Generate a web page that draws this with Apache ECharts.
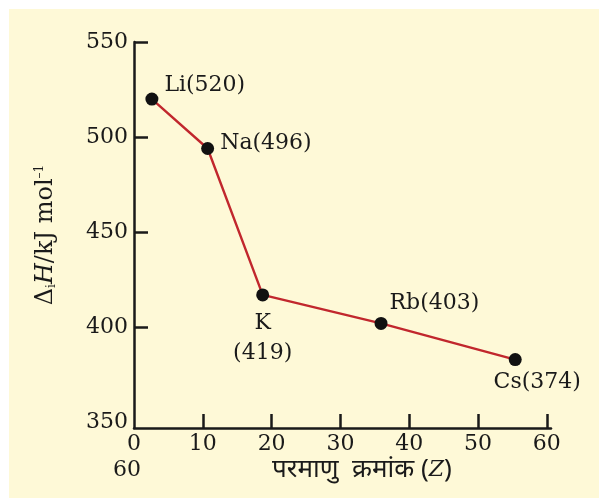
<!DOCTYPE html>
<html>
<head>
<meta charset="utf-8">
<script src="https://cdn.jsdelivr.net/npm/echarts@6/dist/echarts.min.js"></script>
<style>
html,body{margin:0;padding:0;background:#ffffff;}
#bg{position:absolute;left:9px;top:9px;width:590px;height:489px;background:#FEF9D7;}
#chart{position:absolute;left:0;top:0;width:599px;height:498px;}
</style>
</head>
<body>
<div id="bg"></div>
<div id="chart"></div>
<script>
// Data
const elements = ['Li', 'Na', 'K', 'Rb', 'Cs'];
const atomicNumber = [2.6, 10.7, 18.7, 35.9, 55.4];
const enthalpy = [520, 494, 417, 402, 383];
const labelValues = [520, 496, 419, 403, 374];
const xTicks = [0, 10, 20, 30, 40, 50, 60];
const yTickLabels = [350, 400, 450, 500, 550];
const yTickMarks = [400, 450, 500, 550];

const serif = '"DejaVu Serif", "Liberation Serif", serif';
const ink = '#1a1a1a';

const labelPlacement = {
  Li: {position: 'right', offset: [1, -14]},
  Na: {position: 'right', offset: [1, -5]},
  K:  {position: 'bottom', offset: [0, 2]},
  Rb: {position: 'right', offset: [-3, -20]},
  Cs: {position: 'bottom', offset: [22, -4]}
};

const seriesData = elements.map((el, i) => {
  const p = labelPlacement[el];
  const txt = el === 'K' ? 'K\n(' + labelValues[i] + ')' : el + '(' + labelValues[i] + ')';
  return {
    value: [atomicNumber[i], enthalpy[i]],
    label: {
      show: true,
      position: p.position,
      offset: p.offset,
      formatter: txt,
      fontFamily: serif,
      fontSize: 22,
      color: ink,
      lineHeight: 30,
      align: el === 'K' || el === 'Cs' ? 'center' : 'left'
    }
  };
});

const chart = echarts.init(document.getElementById('chart'));
chart.setOption({
  backgroundColor: 'transparent',
  animation: false,
  grid: {left: 134, right: 48, top: 42, bottom: 70, containLabel: false},
  xAxis: {
    type: 'value',
    min: 0,
    max: 60.6,
    axisLine: {show: true, onZero: false, lineStyle: {color: ink, width: 2.5}},
    axisTick: {show: true, inside: true, length: 14, lineStyle: {color: ink, width: 2.5}, customValues: xTicks.slice(1)},
    axisLabel: {customValues: xTicks, fontFamily: serif, fontSize: 22, color: ink, margin: 5},
    splitLine: {show: false}
  },
  yAxis: {
    type: 'value',
    min: 347,
    max: 550,
    name: 'Δ{sub|i}{it|H}/kJ mol{sup|–1}',
    nameLocation: 'middle',
    nameGap: 76,
    nameRotate: 90,
    nameTextStyle: {
      fontFamily: serif, fontSize: 24, color: ink,
      rich: {
        sub: {fontFamily: serif, fontSize: 12, color: ink, verticalAlign: 'bottom', padding: [12, 0, 0, 0]},
        it: {fontFamily: serif, fontSize: 24, color: ink, fontStyle: 'italic'},
        sup: {fontFamily: serif, fontSize: 12, color: ink, verticalAlign: 'top', padding: [0, 0, 12, 0]}
      }
    },
    axisLine: {show: true, lineStyle: {color: ink, width: 2.5}},
    axisTick: {show: true, inside: true, length: 14, lineStyle: {color: ink, width: 2.5}, customValues: yTickMarks},
    axisLabel: {customValues: yTickLabels, fontFamily: serif, fontSize: 22, color: ink, margin: 6},
    splitLine: {show: false}
  },
  graphic: [
    {
      type: 'text', left: 113, top: 459,
      style: {text: '60', font: '22px "DejaVu Serif", serif', fill: ink}
    },
    {
      type: 'text', left: 272, top: 457,
      style: {
        text: 'परमाणु  क्रमांक ({z|Z})',
        font: '26px "Noto Sans", "Noto Sans Devanagari", sans-serif',
        fill: ink,
        rich: {z: {fontFamily: '"DejaVu Serif", serif', fontStyle: 'italic', fontSize: 22, fill: ink}}
      }
    }
  ],
  series: [{
    type: 'line',
    data: seriesData,
    symbol: 'circle',
    symbolSize: 13,
    itemStyle: {color: '#111111'},
    lineStyle: {color: '#C1272D', width: 2.4},
    z: 3
  }]
});
</script>
</body>
</html>
